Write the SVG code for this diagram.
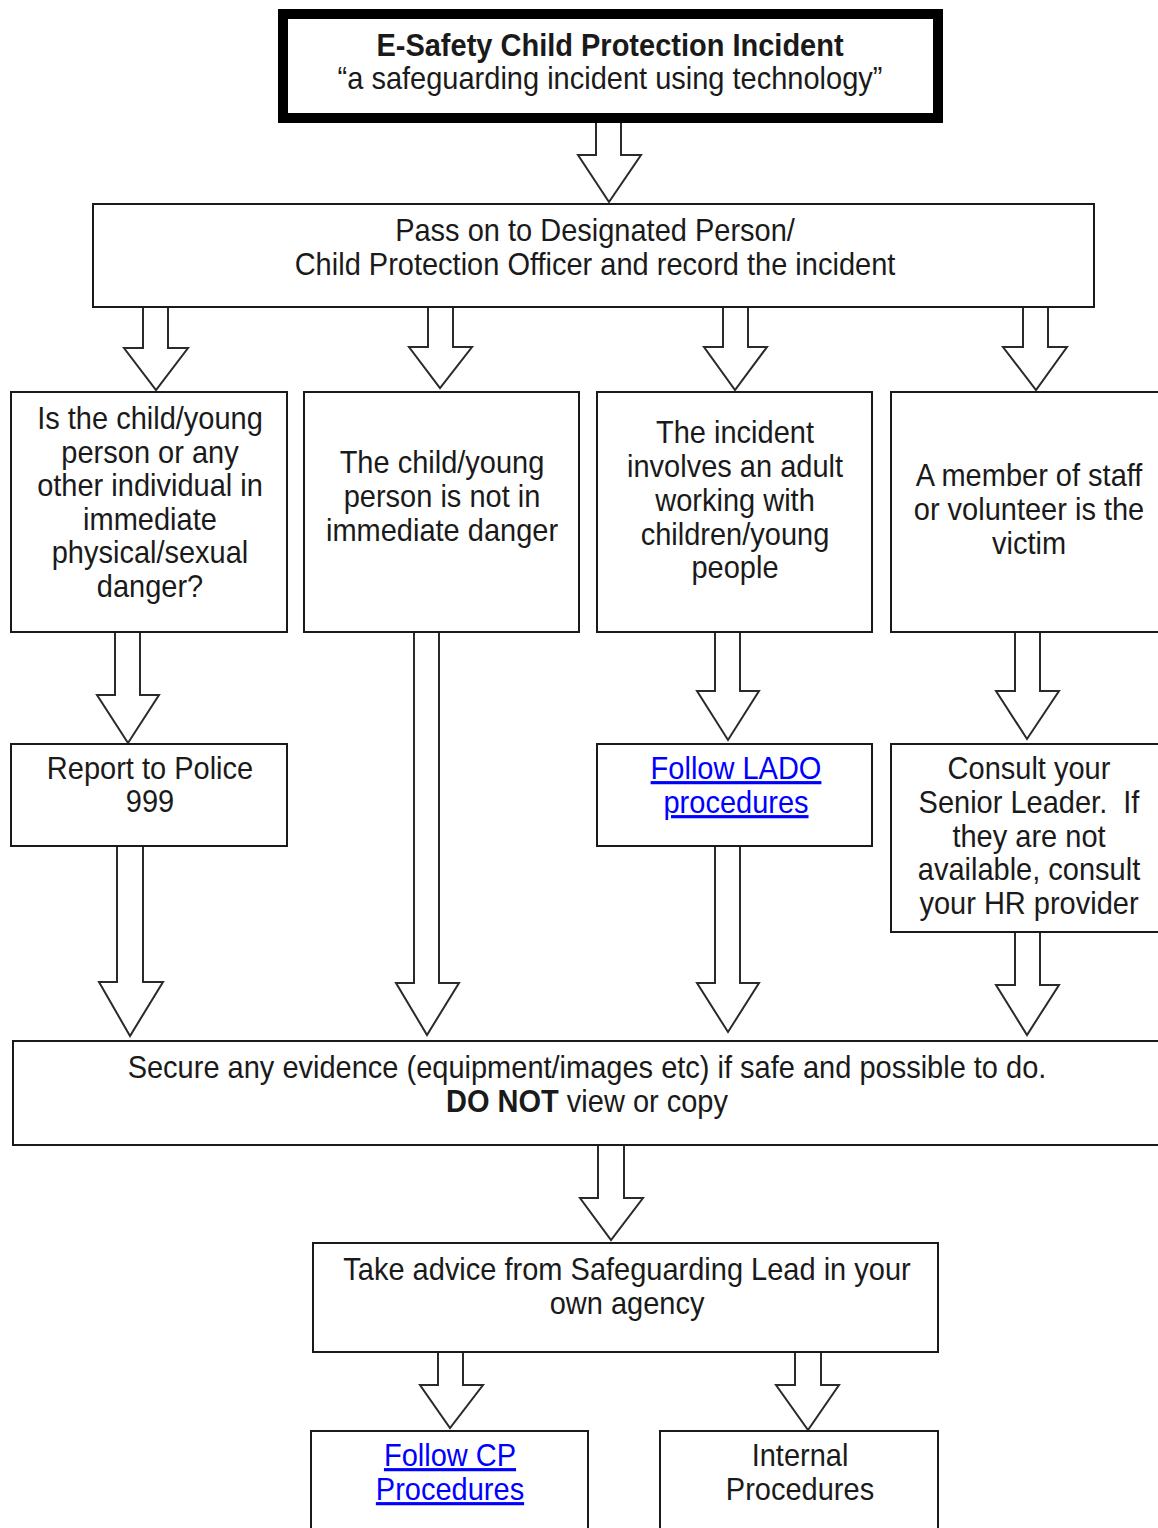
<svg xmlns="http://www.w3.org/2000/svg" width="1158" height="1528" viewBox="0 0 1158 1528">
<style>
  .box { fill: #fff; stroke: #1a1a1a; stroke-width: 2; }
  .thick { fill: #fff; stroke: #000; stroke-width: 10; }
  .arrow { fill: #fff; stroke: #2a2a2a; stroke-width: 2; stroke-linejoin: miter; }
  text { font-family: "Liberation Sans", Arial, sans-serif; font-size: 29px; fill: #1a1a1a; text-anchor: middle; }
  .b { font-weight: bold; }
  .link { fill: #0000ff; text-decoration: underline; }
</style>
<rect width="1158" height="1528" fill="#fff"/>

<g id="connectors">
  <path class="arrow" d="M596,123 V155 H578 L609,202 L641,155 H621 V123"/>
  <path class="arrow" d="M143,307 V348 H124 L156,390 L188,348 H168 V307"/>
  <path class="arrow" d="M428,307 V347 H409 L440,388 L472,347 H453 V307"/>
  <path class="arrow" d="M723,307 V347 H704 L735,390 L767,347 H748 V307"/>
  <path class="arrow" d="M1023,307 V347 H1003 L1036,390 L1067,347 H1048 V307"/>
  <path class="arrow" d="M115,632 V695 H97 L128,743 L159,695 H140 V632"/>
  <path class="arrow" d="M414,632 V983 H396 L427,1035 L459,983 H439 V632"/>
  <path class="arrow" d="M715,632 V691 H697 L728,740 L759,691 H740 V632"/>
  <path class="arrow" d="M1015,632 V691 H996 L1027,739 L1059,691 H1040 V632"/>
  <path class="arrow" d="M117,846 V982 H99 L130,1036 L163,982 H143 V846"/>
  <path class="arrow" d="M715,846 V983 H697 L728,1032 L759,983 H740 V846"/>
  <path class="arrow" d="M1015,932 V985 H996 L1027,1035 L1059,985 H1040 V932"/>
  <path class="arrow" d="M598,1145 V1198 H580 L611,1240 L643,1198 H624 V1145"/>
  <path class="arrow" d="M438,1352 V1385 H420 L450,1428 L483,1385 H463 V1352"/>
  <path class="arrow" d="M795,1352 V1385 H776 L808,1430 L839,1385 H821 V1352"/>
</g>

<g id="n-incident">
  <rect class="thick" x="283" y="14" width="655" height="104"/>
  <text class="b" transform="translate(610,56) scale(1,1.09)">E-Safety Child Protection Incident</text>
  <text transform="translate(610,89) scale(1,1.09)">“a safeguarding incident using technology”</text>
</g>

<g id="n-pass">
  <rect class="box" x="93" y="204" width="1001" height="103"/>
  <text transform="translate(595,241) scale(1,1.09)">Pass on to Designated Person/</text>
  <text transform="translate(595,275) scale(1,1.09)">Child Protection Officer and record the incident</text>
</g>

<g id="n-danger">
  <rect class="box" x="11" y="392" width="276" height="240"/>
  <text transform="translate(150,429) scale(1,1.09)">Is the child/young</text>
  <text transform="translate(150,463) scale(1,1.09)">person or any</text>
  <text transform="translate(150,496) scale(1,1.09)">other individual in</text>
  <text transform="translate(150,530) scale(1,1.09)">immediate</text>
  <text transform="translate(150,563) scale(1,1.09)">physical/sexual</text>
  <text transform="translate(150,597) scale(1,1.09)">danger?</text>
</g>

<g id="n-notdanger">
  <rect class="box" x="304" y="392" width="275" height="240"/>
  <text transform="translate(442,473) scale(1,1.09)">The child/young</text>
  <text transform="translate(442,507) scale(1,1.09)">person is not in</text>
  <text transform="translate(442,541) scale(1,1.09)">immediate danger</text>
</g>

<g id="n-adult">
  <rect class="box" x="597" y="392" width="275" height="240"/>
  <text transform="translate(735,443) scale(1,1.09)">The incident</text>
  <text transform="translate(735,477) scale(1,1.09)">involves an adult</text>
  <text transform="translate(735,511) scale(1,1.09)">working with</text>
  <text transform="translate(735,545) scale(1,1.09)">children/young</text>
  <text transform="translate(735,578) scale(1,1.09)">people</text>
</g>

<g id="n-staff">
  <rect class="box" x="891" y="392" width="290" height="240"/>
  <text transform="translate(1029,486) scale(1,1.09)">A member of staff</text>
  <text transform="translate(1029,520) scale(1,1.09)">or volunteer is the</text>
  <text transform="translate(1029,554) scale(1,1.09)">victim</text>
</g>

<g id="n-police">
  <rect class="box" x="11" y="744" width="276" height="102"/>
  <text transform="translate(150,779) scale(1,1.09)">Report to Police</text>
  <text transform="translate(150,812) scale(1,1.09)">999</text>
</g>

<g id="n-lado">
  <rect class="box" x="597" y="744" width="275" height="102"/>
  <text class="link" transform="translate(736,779) scale(1,1.09)">Follow LADO</text>
  <text class="link" transform="translate(736,813) scale(1,1.09)">procedures</text>
</g>

<g id="n-consult">
  <rect class="box" x="891" y="744" width="290" height="188"/>
  <text transform="translate(1029,779) scale(1,1.09)">Consult your</text>
  <text transform="translate(1029,813) scale(1,1.09)">Senior Leader.&#160; If</text>
  <text transform="translate(1029,847) scale(1,1.09)">they are not</text>
  <text transform="translate(1029,880) scale(1,1.09)">available, consult</text>
  <text transform="translate(1029,914) scale(1,1.09)">your HR provider</text>
</g>

<g id="n-secure">
  <rect class="box" x="13" y="1041" width="1170" height="104"/>
  <text transform="translate(587,1078) scale(1,1.09)">Secure any evidence (equipment/images etc) if safe and possible to do.</text>
  <text transform="translate(587,1112) scale(1,1.09)"><tspan class="b">DO NOT</tspan> view or copy</text>
</g>

<g id="n-advice">
  <rect class="box" x="313" y="1243" width="625" height="109"/>
  <text transform="translate(627,1280) scale(1,1.09)">Take advice from Safeguarding Lead in your</text>
  <text transform="translate(627,1314) scale(1,1.09)">own agency</text>
</g>

<g id="n-cp">
  <rect class="box" x="311" y="1431" width="277" height="120"/>
  <text class="link" transform="translate(450,1466) scale(1,1.09)">Follow CP</text>
  <text class="link" transform="translate(450,1500) scale(1,1.09)">Procedures</text>
</g>

<g id="n-internal">
  <rect class="box" x="660" y="1431" width="278" height="120"/>
  <text transform="translate(800,1466) scale(1,1.09)">Internal</text>
  <text transform="translate(800,1500) scale(1,1.09)">Procedures</text>
</g>
</svg>
